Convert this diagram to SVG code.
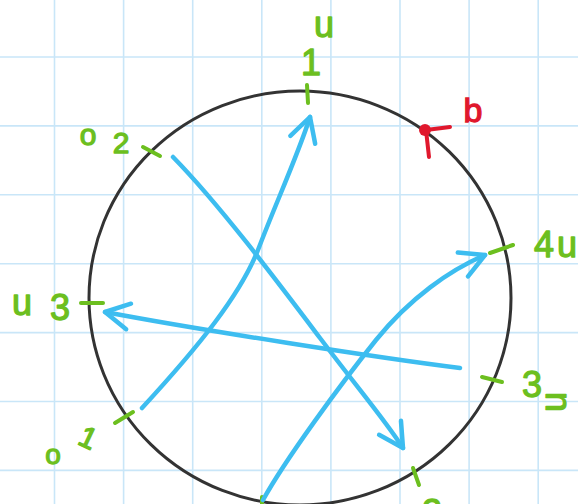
<svg xmlns="http://www.w3.org/2000/svg" width="578" height="504" viewBox="0 0 578 504">
  <style>
    .grid line { stroke: #c9e6f8; stroke-width: 1.6; }
    .ring { fill: none; stroke: #333333; stroke-width: 3; }
    .tick { stroke: #6cbf1f; stroke-width: 4; stroke-linecap: round; fill: none; }
    .lbl { font-family: "Liberation Sans", "DejaVu Sans", sans-serif; font-size: 36px; fill: #6cbf1f; stroke: #6cbf1f; stroke-width: 1.3; stroke-linejoin: round; text-anchor: middle; }
    .red { stroke: #e0182d; stroke-width: 4; stroke-linecap: round; fill: none; }
    .redlbl { font-family: "Liberation Sans", "DejaVu Sans", sans-serif; font-size: 34px; fill: #e0182d; stroke: #e0182d; stroke-width: 1.3; text-anchor: middle; }
    .conn { fill: none; stroke: #3dbdf0; stroke-width: 4.5; stroke-linecap: round; stroke-linejoin: round; }
  </style>
  <defs>
    <marker id="head" markerUnits="userSpaceOnUse" markerWidth="60" markerHeight="60" viewBox="-30 -30 60 60" refX="0" refY="0" orient="auto">
      <path d="M-24,-13 L0,0 L-24,13" fill="none" stroke="#3dbdf0" stroke-width="4.5" stroke-linecap="round" stroke-linejoin="round"/>
    </marker>
  </defs>
  <rect width="578" height="504" fill="#ffffff"/>
  <g class="grid">
    <line x1="54.5" y1="0" x2="54.5" y2="504"/>
    <line x1="123.6" y1="0" x2="123.6" y2="504"/>
    <line x1="192.7" y1="0" x2="192.7" y2="504"/>
    <line x1="261.8" y1="0" x2="261.8" y2="504"/>
    <line x1="330.9" y1="0" x2="330.9" y2="504"/>
    <line x1="400" y1="0" x2="400" y2="504"/>
    <line x1="469.1" y1="0" x2="469.1" y2="504"/>
    <line x1="538.2" y1="0" x2="538.2" y2="504"/>
    <line x1="0" y1="57" x2="578" y2="57"/>
    <line x1="0" y1="125.9" x2="578" y2="125.9"/>
    <line x1="0" y1="194.8" x2="578" y2="194.8"/>
    <line x1="0" y1="263.7" x2="578" y2="263.7"/>
    <line x1="0" y1="332.6" x2="578" y2="332.6"/>
    <line x1="0" y1="401.5" x2="578" y2="401.5"/>
    <line x1="0" y1="470.4" x2="578" y2="470.4"/>
  </g>
  <ellipse class="ring" cx="300" cy="298" rx="211" ry="207"/>

  <g id="node-u1">
    <line class="tick" x1="307" y1="85" x2="308" y2="103"/>
    <text class="lbl" x="311" y="75">1</text>
    <text class="lbl" x="324" y="37">u</text>
  </g>
  <g id="node-o2">
    <line class="tick" x1="143" y1="147" x2="160" y2="156"/>
    <text class="lbl" x="88" y="145" style="font-size:30px">o</text>
    <text class="lbl" x="121" y="153" style="font-size:30px">2</text>
  </g>
  <g id="node-u3">
    <line class="tick" x1="81" y1="303" x2="103" y2="303"/>
    <text class="lbl" x="22" y="315">u</text>
    <text class="lbl" x="60" y="320">3</text>
  </g>
  <g id="node-o1">
    <line class="tick" x1="115" y1="423" x2="133" y2="412"/>
    <text class="lbl" x="88" y="448" transform="rotate(25 88 438)" style="font-size:30px">1</text>
    <text class="lbl" x="53" y="464" style="font-size:28px">o</text>
  </g>
  <g id="node-4u">
    <line class="tick" x1="490" y1="253" x2="513" y2="245"/>
    <text class="lbl" x="544" y="257">4</text>
    <text class="lbl" x="567" y="257">u</text>
  </g>
  <g id="node-3u">
    <line class="tick" x1="482" y1="377" x2="502" y2="382"/>
    <text class="lbl" x="532" y="397">3</text>
    <text class="lbl" x="558" y="410" transform="rotate(-90 558 402)">u</text>
  </g>
  <g id="node-12">
    <line class="tick" x1="413" y1="468" x2="419" y2="485"/>
    <text class="lbl" x="432" y="525">2</text>
  </g>
  <g id="node-bottom">
    <line class="tick" x1="262" y1="497" x2="262" y2="506"/>
  </g>
  <g id="node-b">
    <line class="red" x1="426" y1="130" x2="450" y2="127"/>
    <line class="red" x1="426" y1="130" x2="429" y2="157"/>
    <circle cx="425" cy="130" r="6" fill="#e0182d"/>
    <text class="redlbl" x="473" y="122">b</text>
  </g>

  <g id="connectors">
    <path class="conn" marker-end="url(#head)" d="M142,408 C200,345 240,295 258,250 C275,205 298,155 310,117"/>
    <path class="conn" marker-end="url(#head)" d="M173,157 C220,205 280,285 320,338 S385,420 403,448"/>
    <path class="conn" marker-end="url(#head)" d="M460,368 C380,358 200,330 105,312"/>
    <path class="conn" marker-end="url(#head)" d="M263,500 C285,460 340,385 376,340 C410,298 450,270 485,255"/>
  </g>
</svg>
